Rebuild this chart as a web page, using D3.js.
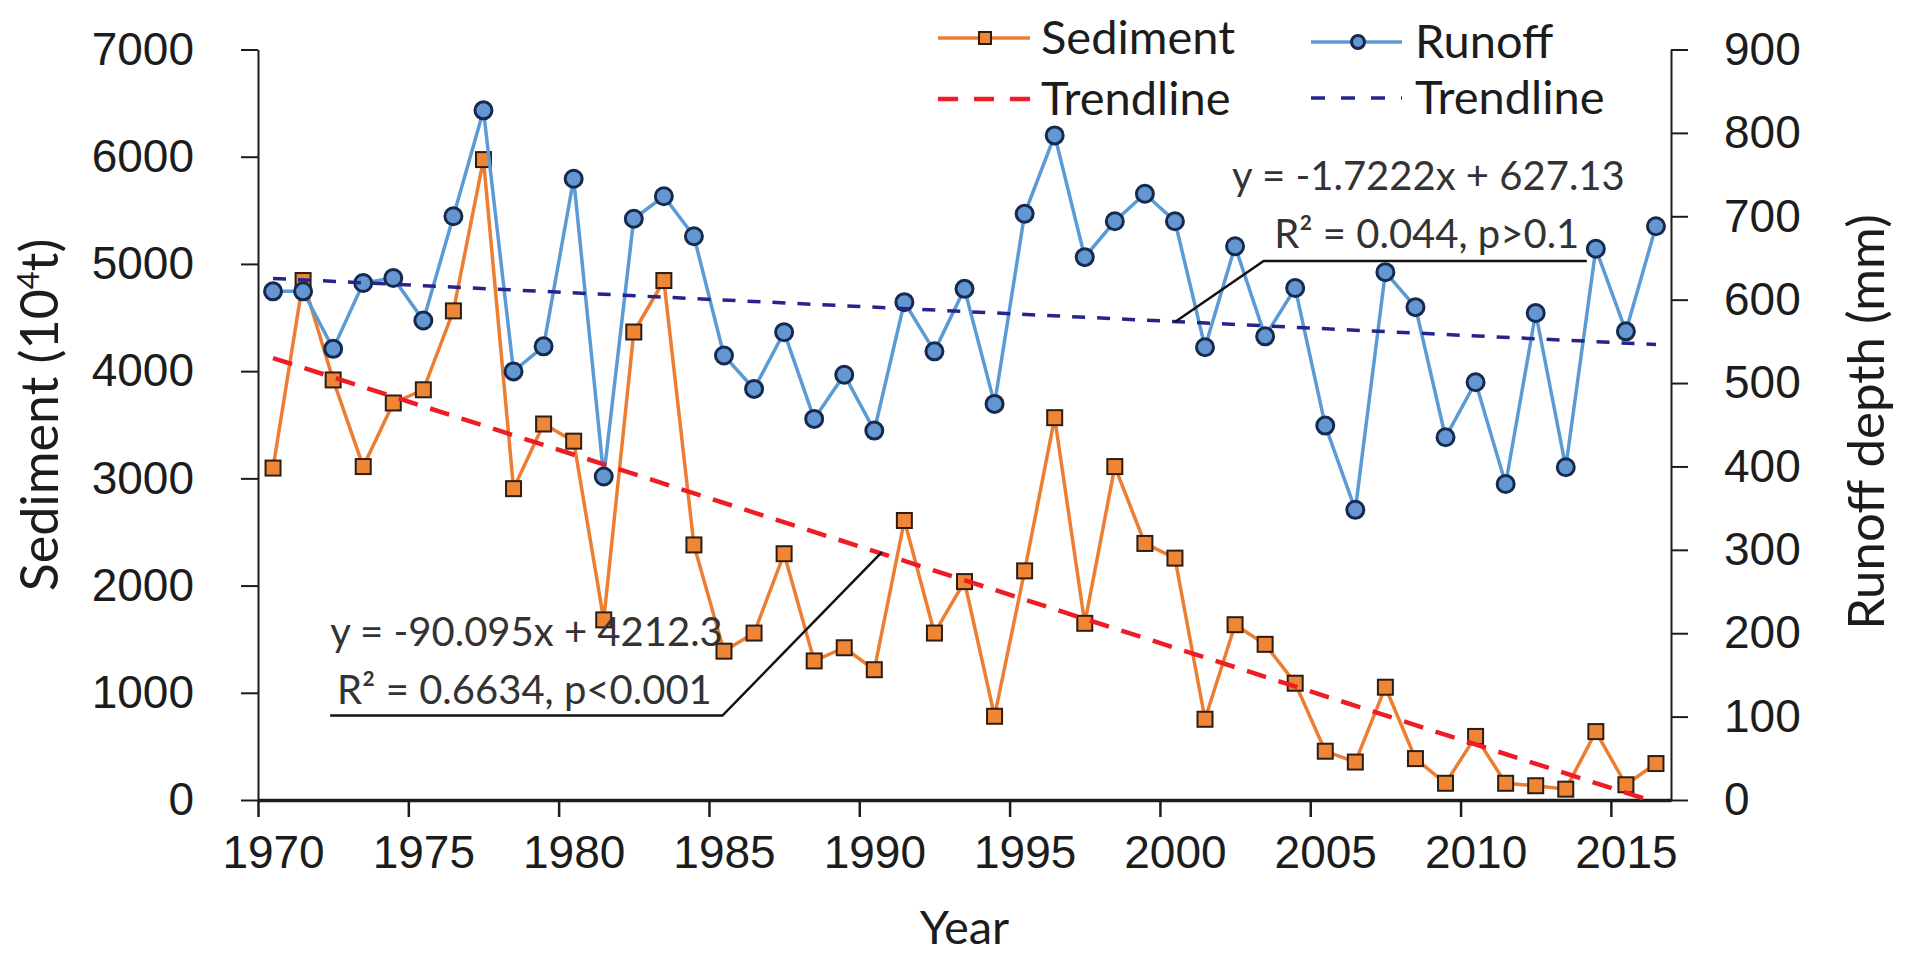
<!DOCTYPE html>
<html>
<head>
<meta charset="utf-8">
<script src="https://cdn.jsdelivr.net/npm/d3@7"></script>
<style>
  html, body { margin: 0; padding: 0; background: #fff; }
  svg { display: block; font-family: Lato, Carlito, Calibri, sans-serif; }
</style>
</head>
<body>
<div id="container"></div>
<script>
const years = [1970, 1971, 1972, 1973, 1974, 1975, 1976, 1977, 1978, 1979,
  1980, 1981, 1982, 1983, 1984, 1985, 1986, 1987, 1988, 1989,
  1990, 1991, 1992, 1993, 1994, 1995, 1996, 1997, 1998, 1999,
  2000, 2001, 2002, 2003, 2004, 2005, 2006, 2007, 2008, 2009,
  2010, 2011, 2012, 2013, 2014, 2015, 2016];

// sediment load (10^4 t), left axis
const sediment = [3096, 4845, 3918, 3110, 3703, 3826, 4562, 5973, 2904, 3507,
  3347, 1680, 4365, 4845, 2379, 1388, 1557, 2297, 1297, 1420,
  1215, 2607, 1557, 2037, 781, 2137, 3566, 1648, 3110, 2393,
  2256, 753, 1635, 1452, 1089, 455, 354, 1052, 386, 156,
  593, 156, 133, 101, 638, 142, 340];

// runoff depth (mm), right axis
const runoff = [610, 610, 541, 620, 626, 575, 700, 827, 514, 544,
  745, 388, 697, 724, 676, 533, 493, 561, 457, 510,
  443, 597, 538, 613, 475, 703, 797, 651, 694, 727,
  694, 543, 664, 556, 614, 449, 348, 633, 591, 435,
  501, 379, 584, 399, 661, 562, 688];

// linear trendlines, value at first and last year
const sedimentTrend = [4122.2, -22.2];
const runoffTrend = [625.4, 546.2];

const xTicks = [1970, 1975, 1980, 1985, 1990, 1995, 2000, 2005, 2010, 2015];
const leftTicks = [0, 1000, 2000, 3000, 4000, 5000, 6000, 7000];
const rightTicks = [0, 100, 200, 300, 400, 500, 600, 700, 800, 900];

const sedimentLabel = ['y = -90.095x + 4212.3', 'R² = 0.6634, p<0.001'];
const runoffLabel = ['y = -1.7222x + 627.13', 'R² = 0.044, p>0.1'];

// leader lines of the equation labels, in data units [year, value]
const sedimentLeader = [[1972.4, 788], [1985.45, 788], [1990.75, 2313]];
const runoffLeader = [[2014.2, 646.5], [2003.45, 646.5], [2000.5, 573.2]];

const w = 1914;
const h = 956;

const x = d3.scaleLinear().domain([1970, 2017]).range([258, 1671]);
const yL = d3.scaleLinear().domain([0, 7000]).range([800, 49.5]);
const yR = d3.scaleLinear().domain([0, 900]).range([800, 49.5]);
const half = 0.5; // points sit in the middle of each year slot

const svg = d3.select('#container')
  .append('svg')
  .attr('width', w)
  .attr('height', h);

svg.append('rect').attr('width', w).attr('height', h).attr('fill', '#fff');

svg.append('clipPath').attr('id', 'plot-clip')
  .append('rect')
  .attr('x', x(1970)).attr('y', yL(7000))
  .attr('width', x(2017) - x(1970)).attr('height', yL(0) - yL(7000));

const ink = '#1c1c1c';
const tickFont = 46;

// axes
const xAxis = d3.axisBottom(x)
  .tickValues(xTicks)
  .tickFormat(d3.format('d'))
  .tickSize(17)
  .tickSizeOuter(0)
  .tickPadding(18);

const leftAxis = d3.axisLeft(yL)
  .tickValues(leftTicks)
  .tickFormat(d3.format('d'))
  .tickSize(17)
  .tickSizeOuter(0)
  .tickPadding(47);

const rightAxis = d3.axisRight(yR)
  .tickValues(rightTicks)
  .tickFormat(d3.format('d'))
  .tickSize(17)
  .tickSizeOuter(0)
  .tickPadding(36);

const gl = svg.append('g')
  .attr('transform', `translate(${x(1970)},0)`)
  .call(leftAxis);

const gr = svg.append('g')
  .attr('transform', `translate(${x(2017)},0)`)
  .call(rightAxis);

const gx = svg.append('g')
  .attr('transform', `translate(0,${yL(0)})`)
  .call(xAxis);

gx.selectAll('.tick text').attr('x', x(1970 + half) - x(1970));

[gl, gr, gx].forEach(g => {
  g.selectAll('path, line').attr('stroke', ink).attr('stroke-width', 2);
  g.selectAll('text')
    .attr('fill', ink)
    .style('font-size', tickFont + 'px');
});
gx.select('.domain').attr('stroke-width', 3.5);
gx.selectAll('.tick line').attr('stroke-width', 2.5);

// axis titles
svg.append('text')
  .attr('transform', `translate(58,415) rotate(-90)`)
  .attr('text-anchor', 'middle')
  .attr('fill', ink)
  .style('font-size', '52px')
  .text('Sediment (10')
  .call(t => t.append('tspan').attr('baseline-shift', 'super').style('font-size', '31px').text('4'))
  .call(t => t.append('tspan').text('t)'));

svg.append('text')
  .attr('x', (x(1970) + x(2017)) / 2)
  .attr('y', 944)
  .attr('text-anchor', 'middle')
  .attr('fill', ink)
  .style('font-size', '47px')
  .text('Year');

svg.append('text')
  .attr('transform', `translate(1884,422) rotate(-90)`)
  .attr('text-anchor', 'middle')
  .attr('fill', ink)
  .style('font-size', '51px')
  .text('Runoff depth (mm)');

// series
const sedColor = '#ed7d31';
const runColor = '#5b9bd5';

const sedLine = d3.line()
  .x((d, i) => x(years[i] + half))
  .y(d => yL(d));

const runLine = d3.line()
  .x((d, i) => x(years[i] + half))
  .y(d => yR(d));

svg.append('path')
  .datum(sediment)
  .attr('d', sedLine)
  .attr('fill', 'none')
  .attr('stroke', sedColor)
  .attr('stroke-width', 3.5);

svg.append('g')
  .selectAll('rect')
  .data(sediment)
  .enter()
  .append('rect')
  .attr('x', (d, i) => x(years[i] + half) - 7.5)
  .attr('y', d => yL(d) - 7.5)
  .attr('width', 15)
  .attr('height', 15)
  .attr('fill', '#ee8636')
  .attr('stroke', '#2e1d10')
  .attr('stroke-width', 2);

svg.append('path')
  .datum(runoff)
  .attr('d', runLine)
  .attr('fill', 'none')
  .attr('stroke', runColor)
  .attr('stroke-width', 3.5);

svg.append('g')
  .selectAll('circle')
  .data(runoff)
  .enter()
  .append('circle')
  .attr('cx', (d, i) => x(years[i] + half))
  .attr('cy', d => yR(d))
  .attr('r', 8.5)
  .attr('fill', '#6496d2')
  .attr('stroke', '#142a4e')
  .attr('stroke-width', 3);

// trendlines
const first = years[0] + half;
const last = years[years.length - 1] + half;

svg.append('line')
  .attr('clip-path', 'url(#plot-clip)')
  .attr('x1', x(first)).attr('y1', yL(sedimentTrend[0]))
  .attr('x2', x(last)).attr('y2', yL(sedimentTrend[1]))
  .attr('stroke', '#ee1c25')
  .attr('stroke-width', 4.5)
  .attr('stroke-dasharray', '20,13');

svg.append('line')
  .attr('clip-path', 'url(#plot-clip)')
  .attr('x1', x(first)).attr('y1', yR(runoffTrend[0]))
  .attr('x2', x(last)).attr('y2', yR(runoffTrend[1]))
  .attr('stroke', '#26248c')
  .attr('stroke-width', 3.5)
  .attr('stroke-dasharray', '13,12');

// equation labels with leader lines
svg.append('path')
  .datum(sedimentLeader)
  .attr('d', d3.line().x(d => x(d[0])).y(d => yL(d[1])))
  .attr('fill', 'none')
  .attr('stroke', '#111')
  .attr('stroke-width', 2.5);

svg.append('path')
  .datum(runoffLeader)
  .attr('d', d3.line().x(d => x(d[0])).y(d => yR(d[1])))
  .attr('fill', 'none')
  .attr('stroke', '#111')
  .attr('stroke-width', 2.5);

const eqFont = 40;
const eq = (txt, px, py) => svg.append('text')
  .attr('x', px).attr('y', py)
  .attr('fill', '#333')
  .style('font-size', eqFont + 'px')
  .text(txt);

eq(sedimentLabel[0], x(1972.4), 646);
eq(sedimentLabel[1], x(1972.63), 704);
eq(runoffLabel[0], x(2002.4), 190);
eq(runoffLabel[1], x(2003.8), 248);

// legend
const legend = svg.append('g').style('font-size', '47px').attr('fill', ink);

legend.append('line').attr('x1', 938).attr('x2', 1030).attr('y1', 38).attr('y2', 38)
  .attr('stroke', sedColor).attr('stroke-width', 3.5);
legend.append('rect').attr('x', 979).attr('y', 32).attr('width', 12).attr('height', 12)
  .attr('fill', '#ee8636').attr('stroke', '#2e1d10').attr('stroke-width', 2);
legend.append('text').attr('x', 1041).attr('y', 38).attr('dy', '0.35em').text('Sediment');

legend.append('line').attr('x1', 938).attr('x2', 1030).attr('y1', 99).attr('y2', 99)
  .attr('stroke', '#ee1c25').attr('stroke-width', 4.5).attr('stroke-dasharray', '20,16');
legend.append('text').attr('x', 1041).attr('y', 99).attr('dy', '0.35em').text('Trendline');

legend.append('line').attr('x1', 1311).attr('x2', 1402).attr('y1', 42).attr('y2', 42)
  .attr('stroke', runColor).attr('stroke-width', 3.5);
legend.append('circle').attr('cx', 1358).attr('cy', 42).attr('r', 6.5)
  .attr('fill', '#6496d2').attr('stroke', '#142a4e').attr('stroke-width', 3);
legend.append('text').attr('x', 1415).attr('y', 42).attr('dy', '0.35em').text('Runoff');

legend.append('line').attr('x1', 1311).attr('x2', 1402).attr('y1', 98).attr('y2', 98)
  .attr('stroke', '#26248c').attr('stroke-width', 3.5).attr('stroke-dasharray', '14,16');
legend.append('text').attr('x', 1415).attr('y', 98).attr('dy', '0.35em').text('Trendline');
</script>
</body>
</html>
